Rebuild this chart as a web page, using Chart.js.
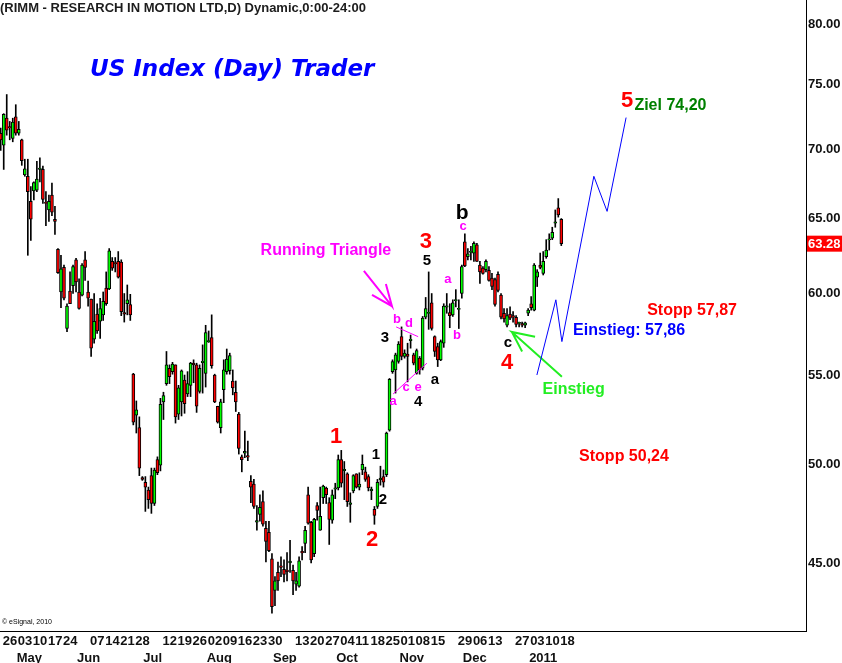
<!DOCTYPE html>
<html>
<head>
<meta charset="utf-8">
<script src="https://cdn.jsdelivr.net/npm/chart.js@4.4.0/dist/chart.umd.min.js"></script>
<style>
  html, body { margin: 0; padding: 0; background: #fff; }
  canvas { display: block; }
</style>
</head>
<body>
<canvas id="chart" width="842" height="663"></canvas>
<script>
// RIMM Tageskerzen 26.04.2010 - 19.01.2011 (Index 0 = 26.04.2010)
const opens = [
  71.2,70.3,72.36,71.7,70.8,72.45,71.2,70.7,68.1,68.0,66.2,66.95,67.0,68.5,68.5,66.15,65.6,66.65,64.95,62.9,
  60.1,61.7,57.8,60.15,60.5,62.2,60.1,59.9,62.2,60.1,59.65,57.15,58.7,58.25,58.65,60.35,60.3,62.1,62.0,62.1,
  62.05,58.8,59.35,59.3,
  55.05,52.7,52.0,49.3,49.05,48.65,49.4,47.95,50.25,49.95,53.45,54.5,55.4,55.2,55.6,52.75,53.45,54.7,53.9,54.4,
  55.7,55.6,54.05,55.75,55.1,57.0,57.25,55.0,53.2,52.0,54.15,55.2,55.25,54.65,54.0,52.75,50.4,50.6,50.45,49.1,
  48.95,47.05,47.4,48.05,46.7,46.5,45.2,43.7,
  44.55,44.85,44.7,44.65,45.05,44.65,44.0,43.9,45.55,45.95,48.4,47.0,45.45,47.85,46.6,48.25,48.75,48.0,47.1,48.7,
  48.75,50.25,49.7,49.5,47.95,48.6,49.5,48.8,49.7,49.6,49.35,48.65,47.65,47.8,49.2,49.35,49.45,51.85,55.2,
  55.3,55.8,57.3,56.1,56.25,57.1,56.2,55.1,56.0,55.4,58.5,58.75,59.4,57.3,56.7,55.9,56.9,59.15,58.8,58.65,
  59.55,59.0,60.0,63.4,62.4,62.7,62.65,63.2,61.85,
  61.65,61.55,61.5,61.0,60.9,61.25,59.9,58.75,58.0,58.7,58.6,58.5,58.15,58.1,58.0,58.75,59.35,58.95,61.05,61.85,
  61.3,62.4,63.55,63.65,64.7,65.75,64.95
];
const highs = [
  71.6,72.7,74.2,72.1,72.35,73.4,72.1,70.75,69.25,69.25,67.25,67.6,69.1,69.35,68.75,66.9,66.65,67.5,65.85,62.95,
  62.5,61.85,59.35,61.4,61.85,62.3,60.95,61.95,62.75,60.8,59.65,60.0,59.35,59.7,60.1,61.4,62.95,62.35,62.35,62.75,
  62.2,60.0,60.55,59.95,
  55.1,53.5,52.6,49.35,49.35,48.8,49.8,49.8,50.4,53.65,54.0,56.4,55.6,55.75,55.6,54.4,55.3,55.0,55.2,55.75,
  55.9,55.7,55.6,56.8,58.0,57.65,58.65,55.05,53.2,53.6,55.9,56.55,56.3,55.3,54.65,52.85,50.5,51.8,51.25,49.4,
  49.2,47.85,48.4,48.6,47.05,47.05,45.45,44.35,
  45.05,45.3,45.15,45.5,46.1,44.9,44.55,45.3,45.8,46.8,48.8,47.05,47.2,48.0,48.8,48.9,48.8,48.25,48.65,49.0,
  50.5,50.75,50.15,49.55,48.5,49.45,49.5,49.55,50.5,49.85,49.45,48.8,47.8,49.2,49.9,49.7,51.75,54.8,55.9,
  56.3,57.0,57.9,56.5,56.9,57.4,56.3,56.55,56.1,58.55,59.75,61.4,60.0,57.35,56.9,57.1,59.35,60.0,59.35,59.6,
  60.25,59.6,61.85,63.95,62.95,63.1,63.4,63.3,62.1,
  61.75,62.2,61.75,61.3,61.0,61.4,60.0,59.05,59.05,59.15,58.85,58.6,58.2,58.2,58.2,59.05,59.8,61.95,61.55,62.65,
  62.75,63.55,63.95,64.4,65.6,66.4,65.0
];
const lows = [
  69.9,68.5,71.05,70.7,70.55,71.05,71.05,68.8,68.0,62.5,63.5,66.3,66.9,67.6,66.05,64.5,64.8,65.2,63.9,61.3,
  59.1,59.6,57.6,59.35,60.0,60.1,59.0,59.85,60.85,59.2,56.1,56.9,57.5,57.2,58.3,59.25,60.25,61.5,61.4,61.0,
  58.6,58.2,58.65,58.3,
  52.15,51.7,49.4,49.15,47.55,47.7,47.45,47.85,49.45,49.65,52.45,54.4,54.5,55.05,52.25,52.45,52.65,52.8,53.75,53.75,
  54.55,52.85,53.95,53.95,54.3,56.95,55.4,53.4,52.25,51.7,53.4,55.05,55.05,53.85,52.9,50.55,49.6,50.35,50.2,48.0,
  47.7,46.6,47.05,46.8,45.05,45.55,42.65,43.0,
  43.7,44.35,44.1,44.15,44.55,43.5,43.7,43.85,45.15,45.5,46.9,45.0,45.3,47.1,46.6,47.95,47.95,45.9,46.95,48.2,
  48.65,48.8,48.15,47.8,47.0,48.5,48.75,48.65,49.45,49.1,48.6,48.15,46.9,47.7,48.9,48.8,49.35,51.8,55.1,
  53.95,55.7,55.9,56.0,54.6,56.6,55.6,55.05,55.05,55.3,58.4,57.75,57.7,56.1,55.5,55.85,56.65,58.75,57.85,58.55,
  59.15,57.8,59.7,61.75,62.2,62.2,62.1,62.1,60.65,
  61.25,61.4,60.8,60.25,59.2,60.1,58.4,58.2,57.9,58.35,58.2,57.9,57.9,57.9,57.85,58.6,58.95,58.9,60.45,61.6,
  61.2,62.3,62.85,63.55,64.4,65.1,63.15
];
const closes = [
  70.7,72.65,71.44,71.6,72.05,71.2,71.5,69.15,68.55,66.9,64.95,67.55,67.8,68.6,66.35,66.05,66.2,65.45,64.8,61.35,
  61.6,59.7,59.2,59.35,61.75,60.75,59.05,61.85,61.7,59.7,56.6,58.25,57.65,59.05,59.5,59.35,62.8,61.65,61.95,61.05,
  58.85,58.7,59.6,58.65,
  52.3,53.0,49.8,49.2,48.8,48.15,47.95,49.7,49.55,53.3,53.8,55.6,54.9,55.65,52.6,54.25,55.25,53.35,54.5,55.7,
  55.6,53.2,55.4,55.8,57.55,57.05,55.55,53.45,52.3,53.45,55.3,55.95,56.15,54.25,53.45,50.85,50.25,50.7,50.4,48.8,
  47.8,47.05,47.75,46.9,46.05,45.6,42.95,44.15,
  44.15,44.8,44.45,44.6,45.05,44.15,44.15,45.1,45.5,46.6,46.95,45.15,47.15,47.6,47.3,48.85,48.4,47.15,48.4,48.75,
  50.25,49.0,49.7,48.05,47.95,49.4,48.8,48.95,50.0,49.2,48.75,48.65,47.35,49.05,49.25,49.05,51.7,54.75,55.8,
  56.2,56.85,56.1,56.3,56.1,57.1,55.7,56.45,55.3,58.45,59.05,58.8,57.8,56.4,55.9,57.0,59.2,59.2,58.6,59.4,
  59.6,59.05,61.75,61.8,62.6,62.75,63.3,62.1,61.4,
  61.3,62.1,60.85,60.45,59.3,60.2,58.5,58.4,58.6,58.45,58.5,58.05,58.15,58.0,58.15,58.95,59.1,61.85,61.4,61.7,
  62.1,62.85,63.6,64.05,64.75,65.25,63.28
];

// Achsenbeschriftung: [Handelstag-Index, Text]
const dayTicks = [
  [0,'26'],[5,'03'],[10,'10'],[15,'17'],[20,'24'],[29,'07'],[34,'14'],[39,'21'],[44,'28'],
  [53,'12'],[58,'19'],[63,'26'],[68,'02'],[73,'09'],[78,'16'],[83,'23'],[88,'30'],
  [97,'13'],[102,'20'],[107,'27'],[112,'04'],[117,'11'],[122,'18'],[127,'25'],[132,'01'],[137,'08'],[142,'15'],
  [151,'29'],[156,'06'],[161,'13'],[170,'27'],[175,'03'],[180,'10'],[185,'18']
];
const monthTicks = [[5,'May'],[25,'Jun'],[47,'Jul'],[68,'Aug'],[90,'Sep'],[111,'Oct'],[132,'Nov'],[153,'Dec'],[175,'2011']];
const priceTicks = [45, 50, 55, 60, 65, 70, 75, 80];

// Prognose-Linie (blau)
const projX = [177.9, 184.2, 186.2, 196.8, 201.2, 207.5];
const projY = [55.0, 59.6, 57.0, 68.0, 65.5, 72.4];

// Wellen-Zählung: [Index, Kurs, Text]
const redWaves = [[111.3, 51.5, '1'], [123.2, 46.1, '2'], [141.1, 63.4, '3'], [168.0, 55.7, '4'], [207.8, 73.7, '5']];
const blackWaves = [[124.5, 50.5, '1'], [126.8, 48.14, '2'], [127.5, 57.2, '3'], [138.5, 53.45, '4'], [141.4, 62.1, '5'], [144.1, 54.7, 'a'], [168.3, 56.9, 'c']];
const pinkWaves = [[131.5, 58.35, 'b'], [135.5, 58.1, 'd'], [130.2, 53.5, 'a'], [134.5, 54.3, 'c'], [138.5, 54.3, 'e'], [148.4, 60.9, 'a'], [151.4, 57.35, 'b'], [153.4, 64.45, 'c']];

// Dreieck-Linien und Pfeile: [[x1,y1],[x2,y2],...]
const triUpper = [[131.2, 57.9], [138.5, 57.3]];
const triLower = [[130.2, 53.9], [141.4, 55.7]];
const pinkArrow = [[120.5, 61.47], [129.8, 59.2], [127.8, 60.62], [129.8, 59.2], [123.2, 59.91]];
const greenArrow = [[186.2, 54.9], [169.6, 57.59], [177.3, 57.3], [169.6, 57.59], [173.0, 56.4]];

const FONT = '"Liberation Sans", Arial, sans-serif';

const bodies = closes.map((c, i) => {
  let lo = Math.min(opens[i], c), hi = Math.max(opens[i], c);
  if (hi - lo < 0.06) { const m = (hi + lo) / 2; lo = m - 0.04; hi = m + 0.04; }
  return { x: i, y: [lo, hi] };
});
const wicks = lows.map((l, i) => ({ x: i, y: [l, highs[i]] }));
const bodyColors = closes.map((c, i) => c >= opens[i] ? '#00ff00' : '#ff0000');

function lineSet(points, color, width) {
  return {
    type: 'line',
    data: points.map(p => ({ x: p[0], y: p[1] })),
    borderColor: color, borderWidth: width,
    pointRadius: 0, fill: false, tension: 0, order: -1
  };
}

const annotate = {
  id: 'annotate',
  afterDraw(chart) {
    const { ctx, scales: { x, y }, chartArea } = chart;
    const txt = (s, px, py, font, color, align, base) => {
      ctx.font = font;
      ctx.fillStyle = color;
      ctx.textAlign = align || 'center';
      ctx.textBaseline = base || 'middle';
      ctx.fillText(s, px, py);
    };
    const at = (i, p, s, font, color) => txt(s, x.getPixelForValue(i), y.getPixelForValue(p), font, color);
    ctx.save();

    // Kopfzeile und Titel
    txt('(RIMM - RESEARCH IN MOTION LTD,D) Dynamic,0:00-24:00', 0, 8, 'bold 13px ' + FONT, '#1c1c1c', 'left');
    txt('US Index (Day) Trader', 90, 70, 'italic bold 23px "DejaVu Sans", Verdana, sans-serif', '#0000ff', 'left');
    txt('\u00a9 eSignal, 2010', 2, 622, '7px ' + FONT, '#000', 'left');

    // Wellen
    redWaves.forEach(w => at(w[0], w[1], w[2], 'bold 22px ' + FONT, '#ff0000'));
    blackWaves.forEach(w => at(w[0], w[1], w[2], 'bold 15px ' + FONT, '#000'));
    at(153.1, 65.4, 'b', 'bold 21px ' + FONT, '#000');
    pinkWaves.forEach(w => at(w[0], w[1], w[2], 'bold 13px ' + FONT, '#ff00ff'));

    // Texte
    at(107.9, 62.8, 'Running Triangle', 'bold 16px ' + FONT, '#ff00ff');
    at(208.5, 57.7, 'Einstieg: 57,86', 'bold 16px ' + FONT, '#0000ff');
    at(229.4, 58.9, 'Stopp 57,87', 'bold 16px ' + FONT, '#ff0000');
    at(190.1, 54.13, 'Einstieg', 'bold 16px ' + FONT, '#22ee22');
    at(206.8, 50.4, 'Stopp 50,24', 'bold 16px ' + FONT, '#ff0000');
    at(222.2, 73.3, 'Ziel 74,20', 'bold 16px ' + FONT, '#008000');

    // Datumsachse
    const base = chartArea.bottom;
    dayTicks.forEach(t => txt(t[1], x.getPixelForValue(t[0]) + 2, base + 14, 'bold 13px ' + FONT, '#111', 'left', 'alphabetic'));
    monthTicks.forEach(t => txt(t[1], x.getPixelForValue(t[0]) + 1, base + 31, 'bold 13px ' + FONT, '#111', 'left', 'alphabetic'));

    // letzter Kurs
    const last = closes[closes.length - 1];
    const ly = y.getPixelForValue(last);
    ctx.fillStyle = '#ff0000';
    ctx.fillRect(chartArea.right + 1, ly - 8, 35, 16);
    txt(last.toFixed(2), chartArea.right + 2, ly + 1, 'bold 13px ' + FONT, '#fff', 'left');

    ctx.restore();
  }
};

new Chart(document.getElementById('chart'), {
  type: 'bar',
  data: {
    datasets: [
      {
        data: bodies, backgroundColor: bodyColors, borderColor: '#000', borderWidth: 1,
        borderSkipped: false, barThickness: 3, grouped: false, order: 0
      },
      { data: wicks, backgroundColor: '#000', barThickness: 1, grouped: false, order: 1 },
      lineSet(projX.map((v, i) => [v, projY[i]]), '#0000ff', 1),
      lineSet(triUpper, '#ff00ff', 1),
      lineSet(triLower, '#ff00ff', 1),
      lineSet(pinkArrow, '#ff00ff', 2),
      lineSet(greenArrow, '#22ee22', 2)
    ]
  },
  options: {
    responsive: false,
    animation: false,
    devicePixelRatio: 1,
    layout: { padding: 0 },
    plugins: { legend: { display: false }, tooltip: { enabled: false } },
    scales: {
      x: {
        type: 'linear', min: -0.232, max: 267.19, offset: false,
        grid: { display: false, drawTicks: false },
        border: { display: true, color: '#000', width: 1 },
        ticks: { display: false },
        afterFit: s => { s.height = 32; s.paddingLeft = 0; s.paddingRight = 0; }
      },
      y: {
        type: 'logarithmic', position: 'right', min: 41.85, max: 82.08,
        grid: { display: false, drawTicks: false },
        border: { display: true, color: '#000', width: 1 },
        afterBuildTicks: s => { s.ticks = priceTicks.map(v => ({ value: v })); },
        ticks: {
          padding: 2, color: '#111',
          font: { family: FONT, size: 13, weight: 'bold' },
          callback: v => Number(v).toFixed(2)
        },
        afterFit: s => { s.width = 36; s.paddingTop = 0; s.paddingBottom = 0; }
      }
    }
  },
  plugins: [annotate]
});
</script>
</body>
</html>
